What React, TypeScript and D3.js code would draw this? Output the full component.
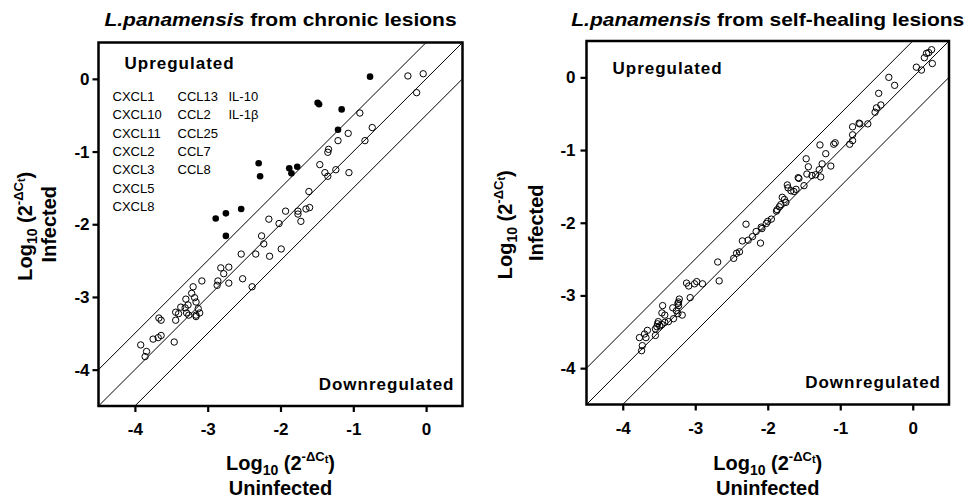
import React, { useRef, useEffect } from 'react';
import { select, scaleLinear, axisBottom, axisLeft, line } from 'd3';

const FONT = '"Liberation Sans", Arial, sans-serif';

const tickValues = [-4, -3, -2, -1, 0];
const axisDomain = [-4.5, 0.5];
// the three reference diagonals: y = x + 0.5, y = x, y = x - 0.5
const diagonalOffsets = [0.5, 0, -0.5];

// chronic lesions, unchanged genes (open circles)
const chronicUninfected = [
  -0.25, -0.04, -0.13, -0.91, -0.74, -1.07, -1.21, -0.84, -1.34, -1.35, -1.46, -1.39, -1.35, -1.24, -1.06,
  -1.61, -1.93, -1.76, -1.76, -1.65, -1.6, -1.72, -2.16, -2.02, -2.26, -2.23, -2.54, -2.34, -2.15, -1.99,
  -2.82, -2.71, -2.78, -2.86, -2.87, -2.71, -2.52, -2.39, -3.08, -3.2, -3.22, -3.3, -3.18, -3.16, -3.27,
  -3.37, -3.31, -3.13, -3.44, -3.4, -3.29, -3.26, -3.11, -3.16, -3.16, -3.44, -3.67, -3.64, -3.75, -3.68,
  -3.64, -3.46, -3.92, -3.84, -3.86,
];
const chronicInfected = [
  0.04, 0.07, -0.19, -0.47, -0.67, -0.75, -0.85, -0.85, -0.97, -1.01, -1.18, -1.29, -1.34, -1.25, -1.29,
  -1.55, -1.82, -1.82, -1.86, -1.79, -1.77, -1.96, -1.93, -1.99, -2.16, -2.27, -2.41, -2.41, -2.44, -2.34,
  -2.6, -2.59, -2.68, -2.78, -2.84, -2.81, -2.75, -2.86, -2.78, -2.86, -2.95, -3.03, -3.01, -3.07, -3.11,
  -3.14, -3.15, -3.16, -3.21, -3.23, -3.22, -3.25, -3.22, -3.25, -3.27, -3.32, -3.29, -3.32, -3.58, -3.56,
  -3.53, -3.62, -3.66, -3.75, -3.82,
];

// chronic lesions, upregulated genes (filled dots)
const chronicUpUninfected = [-0.77, -1.49, -1.47, -1.16, -1.21, -1.88, -1.77, -1.85, -2.3, -2.28, -2.89, -2.75, -2.54, -2.75];
const chronicUpInfected = [0.03, -0.33, -0.35, -0.42, -0.7, -1.23, -1.21, -1.3, -1.16, -1.34, -1.92, -1.85, -1.79, -2.16];

// self-healing lesions
const healingUninfected = [
  0.26, 0.22, 0.19, 0.16, 0.27, 0.05, 0.12, -0.33, -0.25, -0.47, -0.44, -0.5, -0.52, -0.74, -0.73, -0.62,
  -0.83, -0.83, -0.87, -0.83, -1.09, -1.07, -1.28, -1.2, -1.25, -1.29, -1.13, -1.47, -1.44, -1.46, -1.39,
  -1.34, -1.27, -1.58, -1.57, -1.73, -1.72, -1.5, -1.68, -1.64, -1.61, -1.8, -1.77, -1.75, -1.82, -1.84,
  -1.88, -1.87, -1.95, -2.0, -2.02, -2.08, -2.1, -2.3, -2.09, -2.16, -2.21, -2.27, -2.35, -2.39, -2.43,
  -2.47, -2.69, -2.67, -2.9, -2.98, -3.01, -3.12, -3.09, -3.07, -3.22, -3.23, -3.24, -3.23, -3.31, -3.26,
  -3.18, -3.24, -3.45, -3.46, -3.42, -3.3, -3.37, -3.42, -3.51, -3.52, -3.49, -3.46, -3.53, -3.55, -3.55,
  -3.66, -3.7, -3.68, -3.77, -3.73, -3.74,
];
const healingInfected = [
  0.38, 0.34, 0.33, 0.27, 0.19, 0.14, 0.1, 0.0, -0.11, -0.22, -0.38, -0.42, -0.48, -0.63, -0.64, -0.64,
  -0.68, -0.79, -0.92, -0.87, -0.92, -0.9, -0.93, -1.05, -1.19, -1.27, -1.22, -1.12, -1.23, -1.33, -1.35,
  -1.34, -1.37, -1.38, -1.39, -1.48, -1.52, -1.49, -1.56, -1.57, -1.54, -1.65, -1.68, -1.72, -1.75, -1.78,
  -1.84, -1.82, -1.95, -1.98, -2.01, -2.08, -2.28, -2.02, -2.06, -2.12, -2.19, -2.24, -2.25, -2.4, -2.42,
  -2.49, -2.54, -2.8, -2.84, -2.81, -2.84, -2.83, -2.87, -3.03, -3.05, -3.09, -3.11, -3.14, -3.17, -3.21,
  -3.27, -3.25, -3.14, -3.24, -3.27, -3.32, -3.36, -3.37, -3.36, -3.39, -3.42, -3.4, -3.43, -3.46, -3.55,
  -3.48, -3.53, -3.58, -3.58, -3.69, -3.76,
];

const upregulatedGenes = [
  ['CXCL1', 'CXCL10', 'CXCL11', 'CXCL2', 'CXCL3', 'CXCL5', 'CXCL8'],
  ['CCL13', 'CCL2', 'CCL25', 'CCL7', 'CCL8'],
  ['IL-10', 'IL-1\u03b2'],
];

type PanelProps = {
  id: string;
  left: number;
  right: number;
  top: number;
  bottom: number;
  subtitle: string;
  open: [number[], number[]];
  filled?: [number[], number[]];
  genes?: string[][];
  upY: number;
  downY: number;
  yLabelX: number;
  infectedX: number;
  tickPad: number;
};

const LogLabel = (props: { x: number; y: number; rotate?: boolean }) => (
  <text
    transform={props.rotate ? `translate(${props.x},${props.y}) rotate(-90)` : `translate(${props.x},${props.y})`}
    textAnchor="middle"
    fontSize={20}
    fontWeight="bold"
  >
    Log<tspan fontSize={14} dy={5}>10</tspan>
    <tspan dy={-5}> (2</tspan>
    <tspan fontSize={13} dy={-9}>-{'\u0394'}C</tspan>
    <tspan fontSize={11} dy={2}>t</tspan>
    <tspan dy={7}>)</tspan>
  </text>
);

const Panel = (p: PanelProps) => {
  const xRef = useRef<SVGGElement>(null);
  const yRef = useRef<SVGGElement>(null);

  const x = scaleLinear().domain(axisDomain).range([p.left, p.right]);
  const y = scaleLinear().domain(axisDomain).range([p.bottom, p.top]);

  useEffect(() => {
    const xAxis = axisBottom(x).tickValues(tickValues).tickSize(6).tickPadding(11).tickFormat((d) => String(d));
    const yAxis = axisLeft(y).tickValues(tickValues).tickSize(6).tickPadding(p.tickPad).tickFormat((d) => String(d));
    [select(xRef.current).call(xAxis as any), select(yRef.current).call(yAxis as any)].forEach((g) => {
      g.select('.domain').remove();
      g.selectAll('line').attr('stroke-width', 2.2);
      g.selectAll('text')
        .attr('font-family', FONT)
        .attr('font-size', 17)
        .attr('font-weight', 'bold')
        .attr('fill', '#000');
    });
  }, []);

  const diag = line<number>()
    .x((d) => x(d))
    .y((d) => y(d));
  const cx = (p.left + p.right) / 2;
  const cy = (p.top + p.bottom) / 2;

  return (
    <g>
      <defs>
        <clipPath id={`clip-${p.id}`}>
          <rect x={p.left} y={p.top} width={p.right - p.left} height={p.bottom - p.top} />
        </clipPath>
      </defs>
      <text transform={`translate(${cx},26) scale(1.2,1)`} textAnchor="middle" fontSize={17.5} fontWeight="bold">
        <tspan fontStyle="italic">L.panamensis</tspan> {p.subtitle}
      </text>
      <g clipPath={`url(#clip-${p.id})`}>
        {diagonalOffsets.map((o) => (
          <path
            key={o}
            d={diag.y((d) => y(d + o))(axisDomain) || ''}
            fill="none"
            stroke="#000"
            strokeWidth={1}
          />
        ))}
      </g>
      {p.open[0].map((v, i) => (
        <circle key={'o' + i} cx={x(v)} cy={y(p.open[1][i])} r={3.2} fill="none" stroke="#000" strokeWidth={1} />
      ))}
      {p.filled &&
        p.filled[0].map((v, i) => <circle key={'f' + i} cx={x(v)} cy={y(p.filled![1][i])} r={3.3} fill="#000" />)}
      <rect
        x={p.left}
        y={p.top}
        width={p.right - p.left}
        height={p.bottom - p.top}
        fill="none"
        stroke="#000"
        strokeWidth={2.5}
      />
      <g ref={xRef} transform={`translate(0,${p.bottom})`} />
      <g ref={yRef} transform={`translate(${p.left},0)`} />
      <text x={p.left + 26} y={p.upY} fontSize={17} fontWeight="bold" letterSpacing={1}>
        Upregulated
      </text>
      <text x={p.right - 8} y={p.downY} fontSize={17} fontWeight="bold" letterSpacing={1} textAnchor="end">
        Downregulated
      </text>
      {p.genes &&
        p.genes.map((col, ci) =>
          col.map((g, ri) => (
            <text key={g} x={p.left + [14, 79, 130][ci]} y={101 + ri * 18.3} fontSize={13}>
              {g}
            </text>
          ))
        )}
      <LogLabel x={cx} y={470} />
      <text x={cx} y={495} textAnchor="middle" fontSize={20} fontWeight="bold">
        Uninfected
      </text>
      <LogLabel x={p.yLabelX} y={cy + 2} rotate />
      <text transform={`translate(${p.infectedX},${cy})rotate(-90)`} textAnchor="middle" fontSize={20} fontWeight="bold">
        Infected
      </text>
    </g>
  );
};

export default function App() {
  return (
    <svg width={971} height={498} style={{ display: 'block', position: 'absolute', left: 0, top: 0 }} fontFamily={FONT}>
      <rect width={971} height={498} fill="#fff" />
      <Panel
        id="chronic"
        left={98.5}
        right={462.5}
        top={42.5}
        bottom={406}
        subtitle="from chronic lesions"
        open={[chronicUninfected, chronicInfected]}
        filled={[chronicUpUninfected, chronicUpInfected]}
        genes={upregulatedGenes}
        upY={69}
        downY={390}
        yLabelX={32}
        infectedX={56}
        tickPad={3}
      />
      <Panel
        id="healing"
        left={586.5}
        right={949}
        top={41}
        bottom={404.5}
        subtitle="from self-healing lesions"
        open={[healingUninfected, healingInfected]}
        upY={74}
        downY={388}
        yLabelX={512}
        infectedX={543}
        tickPad={5}
      />
    </svg>
  );
}
